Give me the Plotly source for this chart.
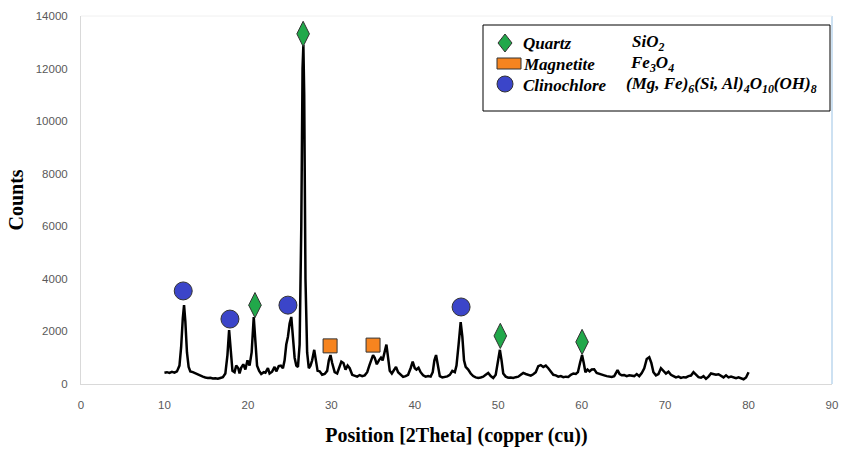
import plotly.graph_objects as go

# ---- XRD pattern ----
two_theta = [
    10.0, 10.3, 10.6, 10.9, 11.2, 11.5, 11.8, 12.0, 12.2, 12.35, 12.5, 12.7, 12.9, 13.1, 13.4, 13.7,
    14.0, 14.3, 14.6, 14.9, 15.2, 15.5, 15.8, 16.1, 16.4, 16.7, 17.0, 17.3, 17.55, 17.75, 17.95,
    18.15, 18.4, 18.6, 18.85, 19.0, 19.2, 19.45, 19.7, 19.95, 20.2, 20.45, 20.7, 20.9, 21.1, 21.35,
    21.6, 21.9, 22.1, 22.4, 22.6, 22.9, 23.2, 23.4, 23.7, 23.95, 24.2, 24.4, 24.6, 24.8, 25.0, 25.2,
    25.4, 25.6, 25.8, 26.0, 26.2, 26.4, 26.55, 26.65, 26.75, 26.9, 27.1, 27.3, 27.5, 27.7, 27.95,
    28.15, 28.35, 28.6, 28.9, 29.2, 29.5, 29.7, 29.9, 30.1, 30.4, 30.7, 30.95, 31.2, 31.45, 31.7,
    31.95, 32.2, 32.5, 32.8, 33.1, 33.4, 33.7, 34.0, 34.3, 34.55, 34.8, 35.0, 35.2, 35.45, 35.7,
    35.95, 36.15, 36.4, 36.6, 36.8, 37.0, 37.25, 37.5, 37.75, 38.0, 38.3, 38.6, 38.9, 39.2, 39.5,
    39.75, 40.0, 40.2, 40.45, 40.7, 41.0, 41.3, 41.6, 41.9, 42.15, 42.35, 42.55, 42.75, 43.0, 43.3,
    43.6, 43.9, 44.2, 44.5, 44.8, 45.0, 45.25, 45.5, 45.7, 45.9, 46.1, 46.4, 46.7, 47.0, 47.3, 47.6,
    47.9, 48.2, 48.5, 48.8, 49.1, 49.4, 49.7, 49.95, 50.2, 50.4, 50.6, 50.9, 51.2, 51.5, 51.8, 52.1,
    52.4, 52.7, 53.0, 53.3, 53.6, 53.9, 54.2, 54.5, 54.8, 55.1, 55.4, 55.7, 56.0, 56.3, 56.6, 56.9,
    57.2, 57.5, 57.8, 58.1, 58.4, 58.7, 59.0, 59.3, 59.55, 59.8, 60.05, 60.25, 60.45, 60.7, 60.95,
    61.2, 61.5, 61.8, 62.1, 62.4, 62.7, 63.0, 63.3, 63.6, 63.9, 64.1, 64.3, 64.55, 64.8, 65.1, 65.4,
    65.7, 66.0, 66.3, 66.6, 66.9, 67.2, 67.5, 67.8, 68.1, 68.35, 68.6, 68.9, 69.2, 69.5, 69.8, 70.1,
    70.4, 70.7, 71.0, 71.3, 71.6, 71.9, 72.2, 72.5, 72.8, 73.1, 73.4, 73.7, 74.0, 74.3, 74.6, 74.9,
    75.2, 75.5, 75.8, 76.1, 76.4, 76.7, 77.0, 77.3, 77.6, 77.9, 78.2, 78.5, 78.8, 79.1, 79.4, 79.7,
    80.0,
]
counts = [
    430, 450, 420, 460, 430, 480, 700, 1400, 2500, 3000, 2400, 1200, 650, 480, 450, 400,
    350, 330, 280, 250, 230, 240, 210, 220, 200, 230, 260, 400, 1100, 2050, 1300,
    500, 450, 700, 600, 400, 620, 750, 550, 900, 700, 1200, 2550, 1500, 700, 500,
    380, 450, 430, 600, 400, 470, 650, 480, 680, 700, 600, 900, 1500, 1800, 2300, 2550,
    1800, 1000, 700, 650, 1500, 6000, 12000, 12900, 11000, 4000, 1200, 600, 700, 900, 1300,
    900, 500, 480, 350, 380, 500, 900, 1100, 800, 450, 400, 650, 850, 800, 550,
    700, 600, 350, 300, 280, 340, 300, 330, 450, 700, 950, 1100, 1000, 750, 900,
    1000, 900, 1200, 1500, 1000, 500, 400, 550, 650, 450, 350, 270, 300, 350, 600,
    850, 600, 550, 620, 450, 330, 280, 300, 280, 450, 900, 1100, 700, 300, 250,
    280, 290, 350, 500, 450, 700, 1500, 2350, 1800, 900, 650, 550, 400, 300, 250, 230,
    250, 280, 350, 420, 300, 230, 350, 800, 1300, 900, 400, 280, 240, 250, 230, 260,
    280, 350, 420, 380, 350, 320, 370, 450, 680, 720, 650, 700, 600, 450, 350, 330,
    280, 300, 260, 280, 270, 350, 400, 380, 450, 800, 1100, 800, 450, 550, 480,
    550, 560, 420, 380, 350, 330, 300, 280, 270, 300, 400, 530, 380, 330, 340, 300,
    330, 310, 300, 380, 300, 420, 600, 950, 1020, 800, 450, 330, 380, 600, 500, 400,
    470, 350, 300, 250, 280, 230, 260, 250, 300, 320, 450, 350, 260, 240, 300, 200,
    280, 400, 380, 350, 370, 300, 250, 330, 250, 280, 240, 220, 250, 220, 180, 250,
    450,
]

# ---- phase identification markers ----
quartz_pos = [20.85, 26.62, 50.25, 60.05]
quartz_mark = [3000, 13320, 1830, 1600]
magnetite_pos = [29.85, 35.0]
magnetite_mark = [1450, 1480]
clino_pos = [12.25, 17.85, 24.8, 45.55]
clino_mark = [3540, 2470, 3000, 2930]

x_ticks = [0, 10, 20, 30, 40, 50, 60, 70, 80, 90]
y_ticks = [0, 2000, 4000, 6000, 8000, 10000, 12000, 14000]

GREEN = "#21a84a"
ORANGE = "#f6841f"
BLUE = "#3b45c9"
EDGE = "#333333"

fig = go.Figure()
fig.add_trace(go.Scatter(x=two_theta, y=counts, mode="lines",
                         line=dict(color="#000000", width=2.5), showlegend=False))
fig.add_trace(go.Scatter(x=quartz_pos, y=quartz_mark, mode="markers", name="Quartz",
                         marker=dict(symbol="diamond-tall", size=18, color=GREEN,
                                     line=dict(color=EDGE, width=1)), showlegend=False))
fig.add_trace(go.Scatter(x=magnetite_pos, y=magnetite_mark, mode="markers", name="Magnetite",
                         marker=dict(symbol="square", size=14, color=ORANGE,
                                     line=dict(color=EDGE, width=1)), showlegend=False))
fig.add_trace(go.Scatter(x=clino_pos, y=clino_mark, mode="markers", name="Clinochlore",
                         marker=dict(symbol="circle", size=18, color=BLUE,
                                     line=dict(color=EDGE, width=1)), showlegend=False))

W, H = 841, 454
ml, mr, mt, mb = 81, 9, 16, 70
pw, ph = W - ml - mr, H - mt - mb


def px2paper(px, py):
    return (px - ml) / pw, (H - mb - py) / ph


shapes = []
# right light-blue frame line and faint top line
shapes.append(dict(type="line", xref="paper", yref="paper", x0=1, x1=1, y0=0, y1=1,
                   line=dict(color="#bdd7ee", width=1.5)))
shapes.append(dict(type="line", xref="paper", yref="paper", x0=0, x1=1, y0=1, y1=1,
                   line=dict(color="#f0f0f0", width=1)))
# legend box
bx0, by0 = px2paper(483, 111)
bx1, by1 = px2paper(830, 25)
shapes.append(dict(type="rect", xref="paper", yref="paper", x0=bx0, y0=by0, x1=bx1, y1=by1,
                   line=dict(color="#000000", width=1), fillcolor="white", layer="above"))
# legend symbols
dx, dy = 7 / pw, 9 / ph
cx, cy = px2paper(505, 43)
shapes.append(dict(type="path", xref="paper", yref="paper", layer="above",
                   path=f"M {cx} {cy+dy} L {cx+dx} {cy} L {cx} {cy-dy} L {cx-dx} {cy} Z",
                   fillcolor=GREEN, line=dict(color=EDGE, width=1)))
sx0, sy0 = px2paper(497, 69)
sx1, sy1 = px2paper(521, 58)
shapes.append(dict(type="rect", xref="paper", yref="paper", x0=sx0, y0=sy0, x1=sx1, y1=sy1,
                   fillcolor=ORANGE, line=dict(color=EDGE, width=1), layer="above"))
ox0, oy0 = px2paper(497, 92)
ox1, oy1 = px2paper(513, 76)
shapes.append(dict(type="circle", xref="paper", yref="paper", x0=ox0, y0=oy0, x1=ox1, y1=oy1,
                   fillcolor=BLUE, line=dict(color=EDGE, width=1), layer="above"))

legend_names = ["Quartz", "Magnetite", "Clinochlore"]
legend_formulas = ["SiO<sub>2</sub>", "Fe<sub>3</sub>O<sub>4</sub>",
                   "(Mg, Fe)<sub>6</sub>(Si, Al)<sub>4</sub>O<sub>10</sub>(OH)<sub>8</sub>"]
row_y = [43, 64, 85]
formula_x = [630, 628, 624]
annotations = []
LFONT = dict(family="Liberation Serif, Times New Roman, serif", size=17, color="#000000")
for name, formula, ry, fx in zip(legend_names, legend_formulas, row_y, formula_x):
    ax, ay = px2paper(521, ry)
    annotations.append(dict(xref="paper", yref="paper", x=ax, y=ay, xanchor="left",
                            yanchor="middle", showarrow=False, text=f"<b><i>{name}</i></b>",
                            font=LFONT))
    fx_, fy_ = px2paper(fx, ry)
    annotations.append(dict(xref="paper", yref="paper", x=fx_, y=fy_, xanchor="left",
                            yanchor="middle", showarrow=False, text=f"<b><i>{formula}</i></b>",
                            font=LFONT))

TICKFONT = dict(family="Liberation Sans, Arial, sans-serif", size=11.5, color="#595959")
TITLEFONT = dict(family="Liberation Serif, Times New Roman, serif", size=20, color="#000000")

fig.update_layout(
    width=W, height=H,
    margin=dict(l=ml, r=mr, t=mt, b=mb),
    paper_bgcolor="white", plot_bgcolor="white",
    showlegend=False,
    shapes=shapes,
    annotations=annotations,
    xaxis=dict(range=[0, 90], tickvals=x_ticks, ticktext=[str(v) for v in x_ticks],
               showgrid=False, zeroline=False, showline=True, linecolor="#d9d9d9", linewidth=1,
               ticks="", tickfont=TICKFONT, ticklabelstandoff=10, automargin=False,
               title=dict(text="<b>Position [2Theta] (copper (cu))</b>", font=TITLEFONT, standoff=18)),
    yaxis=dict(range=[0, 14000], tickvals=y_ticks, ticktext=[str(v) for v in y_ticks],
               showgrid=False, zeroline=False, showline=True, linecolor="#d9d9d9", linewidth=1,
               ticks="", tickfont=TICKFONT, ticklabelstandoff=10, automargin=False,
               title=dict(text="<b>Counts</b>", font=TITLEFONT, standoff=6)),
)

fig.write_html("out.html", config={"displayModeBar": False},
               post_script="document.body.style.margin='0';document.body.style.overflow='hidden';")
